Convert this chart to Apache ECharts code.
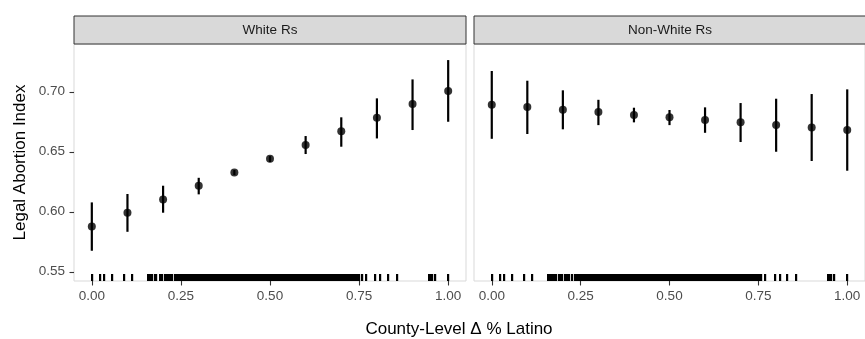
<!DOCTYPE html>
<html>
<head>
<meta charset="utf-8">
<script src="https://cdn.jsdelivr.net/npm/echarts@6/dist/echarts.min.js"></script>
<style>
  html, body { margin: 0; padding: 0; background: #ffffff; }
  #chart { width: 865px; height: 339px; }
</style>
</head>
<body>
<div id="chart"></div>
<script>
// Change in county Latino share (binned) on the x axis
const xValues = [0.00, 0.10, 0.20, 0.30, 0.40, 0.50, 0.60, 0.70, 0.80, 0.90, 1.00];

// Predicted Legal Abortion Index, White respondents
const whiteEst = [0.5878, 0.5992, 0.6103, 0.6217, 0.6328, 0.6442, 0.6556, 0.6670, 0.6783, 0.6897, 0.7006];
const whiteLow = [0.5675, 0.5833, 0.5992, 0.6145, 0.6306, 0.6414, 0.6481, 0.6542, 0.6611, 0.6681, 0.6750];
const whiteHigh = [0.6078, 0.6148, 0.6217, 0.6283, 0.6348, 0.6464, 0.6631, 0.6787, 0.6945, 0.7103, 0.7264];

// Predicted Legal Abortion Index, non-White respondents
const nonWhiteEst = [0.6892, 0.6872, 0.6850, 0.6831, 0.6806, 0.6787, 0.6764, 0.6745, 0.6722, 0.6703, 0.6681];
const nonWhiteLow = [0.6608, 0.6648, 0.6687, 0.6722, 0.6745, 0.6722, 0.6658, 0.6581, 0.6500, 0.6423, 0.6342];
const nonWhiteHigh = [0.7173, 0.7092, 0.7012, 0.6933, 0.6867, 0.6848, 0.6870, 0.6906, 0.6942, 0.6981, 0.7020];

// Observed county-level changes, shown as a rug under each panel
const rugValues = [
  0.000, 0.023, 0.033, 0.056, 0.091, 0.114,
  0.157, 0.161, 0.165, 0.170, 0.176, 0.181, 0.190, 0.194, 0.198, 0.205, 0.209, 0.213, 0.218, 0.226,
  0.234, 0.239, 0.243, 0.248, 0.253, 0.258, 0.262, 0.267, 0.272, 0.277, 0.281, 0.286, 0.291, 0.296,
  0.300, 0.305, 0.310, 0.315, 0.319, 0.324, 0.329, 0.334, 0.338, 0.343, 0.348, 0.353, 0.357, 0.362,
  0.367, 0.372, 0.376, 0.381, 0.386, 0.391, 0.395, 0.400, 0.405, 0.410, 0.414, 0.419, 0.424, 0.429,
  0.433, 0.438, 0.443, 0.448, 0.452, 0.457, 0.462, 0.467, 0.471, 0.476, 0.481, 0.486, 0.490, 0.495,
  0.500, 0.505, 0.509, 0.514, 0.519, 0.524, 0.528, 0.533, 0.538, 0.543, 0.547, 0.552, 0.557, 0.562,
  0.566, 0.571, 0.576, 0.581, 0.585, 0.590, 0.595, 0.600, 0.604, 0.609, 0.614, 0.619, 0.623, 0.628,
  0.633, 0.638, 0.642, 0.647, 0.652, 0.657, 0.661, 0.666, 0.671, 0.676, 0.680, 0.685, 0.690, 0.695,
  0.699, 0.704, 0.709, 0.714, 0.718, 0.723, 0.727,
  0.731, 0.735, 0.741, 0.745, 0.751, 0.758, 0.770, 0.796, 0.810, 0.831, 0.857,
  0.946, 0.950, 0.955, 0.963, 1.000
];

const panelTitles = ['White Rs', 'Non-White Rs'];
const xTicks = [0.00, 0.25, 0.50, 0.75, 1.00];
const yTicks = [0.55, 0.60, 0.65, 0.70];
const xTitle = 'County-Level \u0394 % Latino';
const yTitle = 'Legal Abortion Index';

// Axis ranges (ggplot-style 5% expansion)
const X_MIN = -0.05, X_MAX = 1.05;
const Y_MIN = 0.5423, Y_MAX = 0.7398;

const FONT = '"Liberation Sans", Arial, Helvetica, sans-serif';
const grids = [
  { left: 74, top: 44, width: 392, height: 237 },
  { left: 474, top: 44, width: 392, height: 237 }
];

function rangeRows(lo, hi) {
  return xValues.map((x, i) => [x, lo[i], hi[i]]);
}
function pointRows(est) {
  return xValues.map((x, i) => [x, est[i]]);
}

function renderRange(params, api) {
  const a = api.coord([api.value(0), api.value(1)]);
  const b = api.coord([api.value(0), api.value(2)]);
  return {
    type: 'line',
    shape: { x1: a[0], y1: a[1], x2: b[0], y2: b[1] },
    style: { stroke: '#000000', lineWidth: 2.2 }
  };
}

// Rug ticks snapped to whole pixels so dense stretches read as a solid band
function renderRug(params, api) {
  const p = api.coord([api.value(0), Y_MIN]);
  const x = Math.round(p[0]);
  return {
    type: 'rect',
    shape: { x: x - 1, y: Math.round(p[1]) - 7, width: 2.2, height: 7 },
    style: { fill: '#000000' }
  };
}

function xAxisFor(i) {
  return {
    gridIndex: i, type: 'value', min: X_MIN, max: X_MAX,
    axisLine: { show: false, onZero: false },
    splitLine: { show: false },
    axisTick: { show: true, customValues: xTicks, length: 4.5, lineStyle: { color: '#333333', width: 1.1 } },
    axisLabel: {
      customValues: xTicks, margin: 8, color: '#4D4D4D', fontSize: 13.5, fontFamily: FONT,
      formatter: v => v.toFixed(2)
    }
  };
}

function yAxisFor(i) {
  const showLabels = i === 0;
  return {
    gridIndex: i, type: 'value', min: Y_MIN, max: Y_MAX,
    axisLine: { show: false, onZero: false },
    splitLine: { show: false },
    axisTick: { show: showLabels, customValues: yTicks, length: 4.5, lineStyle: { color: '#333333', width: 1.1 } },
    axisLabel: {
      show: showLabels, customValues: yTicks, margin: 9, color: '#4D4D4D', fontSize: 13.5, fontFamily: FONT,
      formatter: v => v.toFixed(2)
    }
  };
}

const stripGraphics = grids.map((g, i) => ({
  type: 'group',
  children: [
    {
      type: 'rect',
      shape: { x: g.left, y: 16, width: g.width, height: 28 },
      style: { fill: '#D9D9D9', stroke: '#333333', lineWidth: 1 }
    },
    {
      type: 'text',
      x: g.left + g.width / 2, y: 30,
      style: {
        text: panelTitles[i], fill: '#1A1A1A', fontSize: 13.5, fontFamily: FONT,
        textAlign: 'center', textVerticalAlign: 'middle'
      }
    }
  ]
}));

const chart = echarts.init(document.getElementById('chart'), null, { renderer: 'canvas' });
chart.setOption({
  animation: false,
  backgroundColor: '#ffffff',
  grid: grids.map(g => Object.assign({ show: true, borderColor: '#D9D9D9', borderWidth: 1, backgroundColor: '#ffffff' }, g)),
  xAxis: [xAxisFor(0), xAxisFor(1)],
  yAxis: [yAxisFor(0), yAxisFor(1)],
  series: [
    { type: 'custom', xAxisIndex: 0, yAxisIndex: 0, renderItem: renderRug, data: rugValues.map(v => [v]), silent: true },
    { type: 'custom', xAxisIndex: 1, yAxisIndex: 1, renderItem: renderRug, data: rugValues.map(v => [v]), silent: true },
    { type: 'custom', xAxisIndex: 0, yAxisIndex: 0, renderItem: renderRange, data: rangeRows(whiteLow, whiteHigh), silent: true },
    { type: 'custom', xAxisIndex: 1, yAxisIndex: 1, renderItem: renderRange, data: rangeRows(nonWhiteLow, nonWhiteHigh), silent: true },
    { type: 'scatter', xAxisIndex: 0, yAxisIndex: 0, symbolSize: 8, itemStyle: { color: '#000000' }, data: pointRows(whiteEst), silent: true },
    { type: 'scatter', xAxisIndex: 1, yAxisIndex: 1, symbolSize: 8, itemStyle: { color: '#000000' }, data: pointRows(nonWhiteEst), silent: true }
  ],
  graphic: stripGraphics.concat([
    {
      type: 'text', x: 20, y: 162.5, rotation: Math.PI / 2,
      style: { text: yTitle, fill: '#000000', fontSize: 17, fontFamily: FONT, textAlign: 'center', textVerticalAlign: 'middle' }
    },
    {
      type: 'text', x: 459, y: 329,
      style: { text: xTitle, fill: '#000000', fontSize: 17, fontFamily: FONT, textAlign: 'center', textVerticalAlign: 'middle' }
    }
  ])
});
</script>
</body>
</html>
